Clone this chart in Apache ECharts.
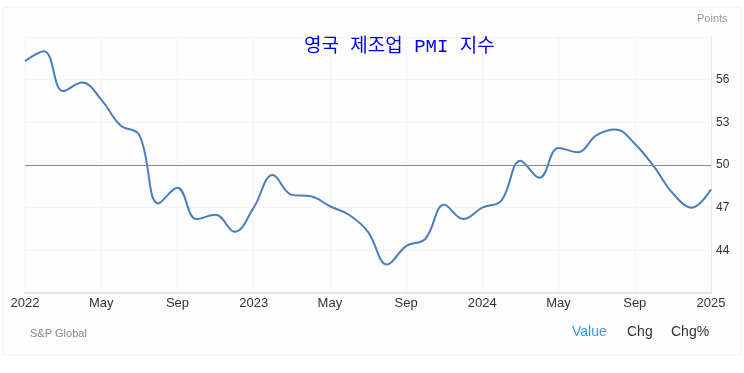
<!DOCTYPE html>
<html><head><meta charset="utf-8">
<script src="https://cdn.jsdelivr.net/npm/echarts@6/dist/echarts.min.js"></script>
<style>html,body{margin:0;padding:0;background:#fff}#c{width:744px;height:373px}</style>
</head><body><div id="c"></div>
<script>
const months = ["2022-01","2022-02","2022-03","2022-04","2022-05","2022-06","2022-07","2022-08","2022-09","2022-10","2022-11","2022-12",
"2023-01","2023-02","2023-03","2023-04","2023-05","2023-06","2023-07","2023-08","2023-09","2023-10","2023-11","2023-12",
"2024-01","2024-02","2024-03","2024-04","2024-05","2024-06","2024-07","2024-08","2024-09","2024-10","2024-11","2024-12","2025-01"];
const pmi = [57.3,58.0,55.2,55.8,54.6,52.8,52.1,47.3,48.4,46.2,46.5,45.3,
47.0,49.3,47.9,47.8,47.1,46.5,45.3,43.0,44.3,44.8,47.2,46.2,
47.0,47.5,50.3,49.1,51.2,50.9,52.1,52.5,51.5,49.9,48.0,47.0,48.3];
const xTickLabels = ["2022","May","Sep","2023","May","Sep","2024","May","Sep","2025"];
const yMin = 41, yMax = 59, yStep = 3;
const shownY = [44,47,50,53,56];
const title = "영국 제조업 PMI 지수";

const chart = echarts.init(document.getElementById('c'), null, {renderer:'canvas'});
chart.setOption({
  backgroundColor:'#fff',
  animation:false,
  graphic:[
    {type:'rect', shape:{x:3,y:7,width:738,height:348}, style:{fill:'#fdfdfd',stroke:'#f0f0f0',lineWidth:1}, z:-10},
    {type:'text', left:697, top:13, style:{text:'Points',fill:'#999',font:'11px Arial, "Liberation Sans"'}},
    {type:'text', left:30, top:328, style:{text:'S&P Global',fill:'#888',font:'11px Arial, "Liberation Sans"'}},
    {type:'text', left:572, top:325, style:{text:'Value',fill:'#3399ee',font:'14px Arial, "Liberation Sans"'}},
    {type:'text', left:627, top:325, style:{text:'Chg',fill:'#333',font:'14px Arial, "Liberation Sans"'}},
    {type:'text', left:671, top:325, style:{text:'Chg%',fill:'#333',font:'14px Arial, "Liberation Sans"'}}
  ],
  title:{text:title, left:299, top:32,
    textStyle:{color:'#0000ee',fontSize:19,fontWeight:'normal',fontFamily:'"Liberation Mono","Noto Sans CJK KR",monospace'}},
  grid:{left:25,right:33,top:37,bottom:80},
  xAxis:{type:'category', data:months, boundaryGap:false,
    axisLine:{lineStyle:{color:'#e4e4e4',width:2}},
    axisTick:{show:false},
    axisLabel:{interval:3, color:'#333', fontSize:13, margin:4, fontFamily:'Arial, "Liberation Sans"',
      formatter:(v,i)=>xTickLabels[i/4]},
    splitLine:{show:true, interval:3, lineStyle:{color:'#eeeeee',type:'dotted'}}},
  yAxis:{type:'value', position:'right', min:yMin, max:yMax, interval:yStep,
    axisLine:{show:true,lineStyle:{color:'#e8e8e8',width:1}},
    axisTick:{show:false},
    axisLabel:{color:'#333', fontSize:12, margin:5, fontFamily:'Arial, "Liberation Sans"',
      formatter:v=>shownY.includes(v)?String(v):''},
    splitLine:{lineStyle:{color:'#eeeeee',type:'dotted'}}},
  series:[{type:'line', data:pmi, smooth:0.4, symbol:'none',
    lineStyle:{color:'#4a7ebb',width:2},
    markLine:{silent:true, symbol:'none', label:{show:false},
      lineStyle:{color:'#888',type:'solid',width:1}, data:[{yAxis:50}]}}]
});
</script></body></html>
